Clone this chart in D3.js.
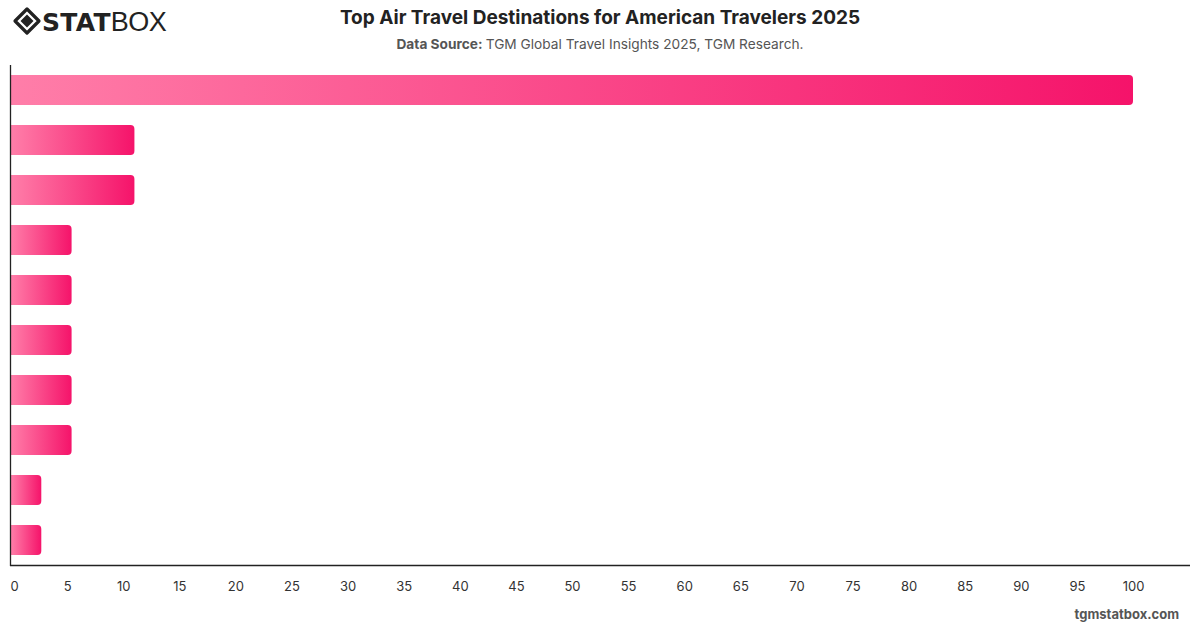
<!DOCTYPE html>
<html>
<head>
<meta charset="utf-8">
<script src="https://cdn.jsdelivr.net/npm/d3@7"></script>
<style>
  body { margin: 0; background: #fff; font-family: Inter, "Noto Sans", sans-serif; }
  svg { display: block; }
</style>
</head>
<body>
<div id="chart"></div>
<script>
// data (category names are not shown on the chart)
const destinations = ["d1", "d2", "d3", "d4", "d5", "d6", "d7", "d8", "d9", "d10"];
const shares = [100, 11, 11, 5.4, 5.4, 5.4, 5.4, 5.4, 2.7, 2.7];
const xTicks = d3.range(0, 101, 5);

const W = 1200, H = 628;
const margin = { TOP: 65, BOTTOM: 63, LEFT: 11, RIGHT: 10 };

const svg = d3.select("#chart").append("svg")
  .attr("width", W)
  .attr("height", H);

// gradient for bars
const defs = svg.append("defs");
const grad = defs.append("linearGradient")
  .attr("id", "barGrad")
  .attr("x1", "0").attr("x2", "1").attr("y1", "0").attr("y2", "0");
grad.append("stop").attr("offset", "0%").attr("stop-color", "#ff7ea9");
grad.append("stop").attr("offset", "100%").attr("stop-color", "#f5136a");

// logo
const logo = svg.append("g").attr("transform", "translate(27,21)");
logo.append("path")
  .attr("d", "M0,-12 L12,0 L0,12 L-12,0 Z")
  .attr("fill", "none")
  .attr("stroke", "#222")
  .attr("stroke-width", 3.2)
  .attr("stroke-linejoin", "round");
logo.append("path")
  .attr("d", "M0,-6.5 L6.5,0 L0,6.5 L-6.5,0 Z")
  .attr("fill", "#222");
svg.append("text")
  .attr("x", 42).attr("y", 31)
  .style("font-family", "'DejaVu Sans', sans-serif")
  .style("fill", "#222")
  .call(t => {
    t.append("tspan").text("STAT").style("font-weight", "900").style("font-size", "25px").style("letter-spacing", "0.3px");
    t.append("tspan").text("BOX").style("font-weight", "300").style("font-family", "'Liberation Sans', sans-serif").style("font-size", "27px").style("letter-spacing", "-0.5px");
  });

// title
svg.append("text")
  .attr("x", 600).attr("y", 24)
  .attr("text-anchor", "middle")
  .style("font-size", "19px")
  .style("font-weight", "700")
  .style("fill", "#222")
  .text("Top Air Travel Destinations for American Travelers 2025");

svg.append("text")
  .attr("x", 600).attr("y", 49)
  .attr("text-anchor", "middle")
  .style("font-size", "13.7px")
  .style("fill", "#555")
  .call(t => {
    t.append("tspan").text("Data Source: ").style("font-weight", "700");
    t.append("tspan").text("TGM Global Travel Insights 2025, TGM Research.");
  });

// scales
const xScale = d3.scaleLinear()
  .domain([0, 100])
  .range([margin.LEFT, 1133]);

const yScale = d3.scaleBand()
  .domain(destinations)
  .range([margin.TOP, H - margin.BOTTOM])
  .paddingInner(0.4)
  .paddingOuter(0.2);

// bars with rounded right end
const r = 4;
svg.selectAll(".bar")
  .data(shares)
  .enter()
  .append("path")
    .attr("class", "bar")
    .attr("fill", "url(#barGrad)")
    .attr("d", (d, i) => {
      const x0 = xScale(0), x1 = xScale(d);
      const y0 = yScale(destinations[i]), h = yScale.bandwidth();
      return `M${x0},${y0} H${x1 - r} Q${x1},${y0} ${x1},${y0 + r} V${y0 + h - r} Q${x1},${y0 + h} ${x1 - r},${y0 + h} H${x0} Z`;
    });

// axes
const xAxisCall = d3.axisBottom(xScale)
  .tickValues(xTicks)
  .tickSize(0)
  .tickPadding(17)
  .tickFormat(d => d);

const xAxisGroup = svg.append("g")
  .attr("transform", `translate(0, ${H - margin.BOTTOM})`)
  .call(xAxisCall);
xAxisGroup.select(".domain").remove();
xAxisGroup.selectAll("text")
  .style("font-family", "Inter, 'Noto Sans', sans-serif")
  .style("font-size", "13px")
  .style("fill", "#333")
  .attr("dx", d => d === 0 ? 3 : 0);

svg.append("line")
  .attr("x1", margin.LEFT - 1).attr("x2", W - margin.RIGHT)
  .attr("y1", H - margin.BOTTOM + 0.5).attr("y2", H - margin.BOTTOM + 0.5)
  .attr("stroke", "#222").attr("stroke-width", 1.3);

svg.append("line")
  .attr("x1", margin.LEFT - 0.5).attr("x2", margin.LEFT - 0.5)
  .attr("y1", margin.TOP).attr("y2", H - margin.BOTTOM + 1)
  .attr("stroke", "#222").attr("stroke-width", 1.3);

// footer
svg.append("text")
  .attr("x", 1179).attr("y", 619)
  .attr("text-anchor", "end")
  .style("font-size", "13px")
  .style("font-weight", "700")
  .style("fill", "#555")
  .text("tgmstatbox.com");
</script>
</body>
</html>
